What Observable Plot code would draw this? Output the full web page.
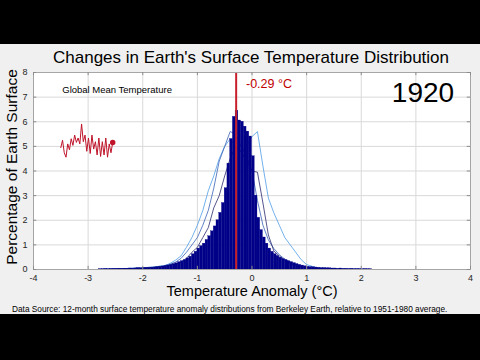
<!DOCTYPE html>
<html>
<head>
<meta charset="utf-8">
<script src="https://cdn.jsdelivr.net/npm/d3@7"></script>
<script src="https://cdn.jsdelivr.net/npm/@observablehq/plot@0.6"></script>
<style>
  html, body { margin: 0; padding: 0; background: #000; width: 480px; height: 360px; overflow: hidden; }
  #panel { position: absolute; left: 0; top: 44px; width: 480px; height: 270px; background: #f0f0f0; }
  #title { position: absolute; left: 22px; width: 458px; top: 48px; text-align: center;
           font: 17px Arial, "Liberation Sans", sans-serif; line-height: 19px; color: #000; }
  #chart { position: absolute; left: 0; top: 60px; }
  #caption { position: absolute; left: 12px; top: 304px; font: 8.3px Arial, "Liberation Sans", sans-serif;
             line-height: 10px; color: #000; white-space: nowrap; }
</style>
</head>
<body>
<div id="panel"></div>
<div id="title">Changes in Earth's Surface Temperature Distribution</div>
<div id="chart"></div>
<div id="caption">Data Source: 12-month surface temperature anomaly distributions from Berkeley Earth, relative to 1951-1980 average.</div>
<script>
// ---- data ----
const year = 1920;
const meanAnomaly = -0.29;
const xTicks = [-4, -3, -2, -1, 0, 1, 2, 3, 4];
const yTicks = [0, 1, 2, 3, 4, 5, 6, 7, 8];

// histogram for the current year: bins of 0.05 °C starting at -2.8 °C
const binStart = -2.8;
const binWidth = 0.05;
const binValues = [
  0.01, 0.01, 0.02, 0.01, 0.02, 0.02,
  0.02, 0.03, 0.02, 0.03, 0.03, 0.04, 0.03, 0.04, 0.05, 0.04,
  0.05, 0.06, 0.06, 0.07, 0.08, 0.09, 0.10, 0.12, 0.14, 0.16,
  0.19, 0.22, 0.25, 0.30, 0.34, 0.38, 0.45, 0.52, 0.62, 0.72,
  0.85, 0.95, 1.05, 1.20, 1.35, 1.55, 1.75, 2.00, 2.30, 2.70,
  3.30, 4.30, 5.30, 6.20, 6.45, 6.05, 6.00, 5.80, 5.60, 5.40,
  4.60, 3.00, 2.10, 1.60, 1.30, 1.05, 0.85, 0.72, 0.62, 0.55,
  0.48, 0.42, 0.38, 0.34, 0.30, 0.26, 0.22, 0.19, 0.16, 0.13,
  0.11, 0.10, 0.09, 0.08, 0.07, 0.06, 0.06, 0.05, 0.05, 0.04,
  0.04, 0.03, 0.04, 0.03, 0.03, 0.02, 0.03, 0.02, 0.02, 0.02, 0.01, 0.02, 0.01, 0.01
];

// outlines of earlier distributions
const lineX = [-2.8, -2.4, -2.0, -1.8, -1.6, -1.5, -1.4, -1.3, -1.2, -1.1, -1.0, -0.9, -0.8, -0.7, -0.6, -0.5,
               -0.4, -0.3, -0.2, -0.1, 0.0, 0.1, 0.2, 0.3, 0.4, 0.5, 0.6, 0.7, 0.8, 0.9, 1.0, 1.2, 1.5];
const lineLight = [0, 0.03, 0.07, 0.10, 0.15, 0.25, 0.38, 0.55, 0.9, 1.3, 1.8, 2.4, 3.2, 3.8, 4.5, 5.0,
                   5.3, 5.0, 4.8, 5.0, 5.4, 5.6, 4.2, 2.9, 2.3, 1.8, 1.3, 1.0, 0.7, 0.4, 0.2, 0.06, 0.02];
const lineMedium = [0, 0.03, 0.07, 0.10, 0.16, 0.22, 0.30, 0.45, 0.7, 1.0, 1.3, 1.8, 2.4, 3.3, 4.4, 5.0,
                    5.6, 5.5, 5.0, 4.6, 4.0, 2.8, 1.8, 1.2, 0.85, 0.6, 0.42, 0.3, 0.2, 0.12, 0.08, 0.03, 0.01];
const lineDark = [0, 0.02, 0.06, 0.08, 0.13, 0.18, 0.23, 0.30, 0.45, 0.7, 0.9, 1.3, 1.7, 2.5, 3.0, 3.8,
                  4.5, 5.0, 4.8, 4.4, 4.0, 3.95, 2.7, 1.4, 0.75, 0.55, 0.37, 0.25, 0.15, 0.1, 0.06, 0.03, 0.01];

// inset: global mean temperature anomaly (°C) up to the current year
const sparkAnoms = [-0.40, -0.30, -0.47, -0.53, -0.35, -0.43, -0.28, -0.37, -0.23, -0.33, -0.27, -0.35, -0.08,
                    -0.32, -0.23, -0.45, -0.27, -0.48, -0.23, -0.42, -0.32, -0.50, -0.27, -0.52, -0.32, -0.50,
                    -0.27, -0.53, -0.35, -0.47, -0.33];

// ---- derived tables ----
const bars = binValues.map((v, i) => ({x1: binStart + i * binWidth, x2: binStart + (i + 1) * binWidth, y: v}));
const mk = (vals) => vals.map((v, i) => ({x: lineX[i], y: v}));
const insetX = d3.scaleLinear([0, sparkAnoms.length - 1], [-3.5, -2.55]);
const insetY = d3.scaleLinear([-0.35, 0.0], [5.1, 6.15]);
const spark = sparkAnoms.map((a, i) => ({x: insetX(i), y: insetY(a)}));

const font = 'Arial, "Liberation Sans", sans-serif';
const fmt = (d) => String(d);

const chart = Plot.plot({
  width: 480,
  height: 243,
  marginLeft: 33,
  marginRight: 10,
  marginTop: 12,
  marginBottom: 34,
  style: {background: "transparent", fontFamily: font, color: "#262626"},
  x: {domain: [-4, 4], axis: null},
  y: {domain: [0, 8], axis: null},
  marks: [
    Plot.frame({fill: "white", stroke: null}),
    Plot.gridX(xTicks, {stroke: "#d9d9d9", strokeOpacity: 1}),
    Plot.gridY(yTicks, {stroke: "#d9d9d9", strokeOpacity: 1}),
    Plot.line(mk(lineLight), {x: "x", y: "y", stroke: "#4f9de6", strokeWidth: 0.8}),
    Plot.line(mk(lineMedium), {x: "x", y: "y", stroke: "#3a62b8", strokeWidth: 0.8}),
    Plot.line(mk(lineDark), {x: "x", y: "y", stroke: "#2a2a70", strokeWidth: 0.8}),
    Plot.rectY(bars, {x1: "x1", x2: "x2", y: "y", fill: "#000088", stroke: "#000088", strokeWidth: 0.3}),
    Plot.ruleX([meanAnomaly], {stroke: "#c8202a", strokeWidth: 2}),
    Plot.line(spark, {x: "x", y: "y", stroke: "#c0142a", strokeWidth: 1}),
    Plot.dot([spark[spark.length - 1]], {x: "x", y: "y", r: 2, fill: "#c0142a", stroke: "#c0142a"}),
    Plot.text(["Global Mean Temperature"], {x: -2.47, y: 7.3, fontSize: 9.5, fill: "#000", fontFamily: font}),
    Plot.text([`${meanAnomaly.toFixed(2)} °C`], {x: -0.11, y: 7.52, textAnchor: "start", fontSize: 12.5, fill: "#c00000", fontFamily: font}),
    Plot.text([String(year)], {x: 3.7, y: 7.15, textAnchor: "end", fontSize: 28, fill: "#000", fontFamily: font}),
    Plot.frame({stroke: "#a6a6a6"}),
    Plot.ruleX(xTicks, {y1: 0, y2: 0.13, stroke: "#8c8c8c"}),
    Plot.ruleX(xTicks, {y1: 7.87, y2: 8, stroke: "#8c8c8c"}),
    Plot.ruleY(yTicks, {x1: -4, x2: -3.94, stroke: "#8c8c8c"}),
    Plot.ruleY(yTicks, {x1: 3.94, x2: 4, stroke: "#8c8c8c"}),
    Plot.axisX(xTicks, {tickSize: 0, tickPadding: 5, fontSize: 9, label: null, fill: "#262626", tickFormat: fmt}),
    Plot.axisY(yTicks, {tickSize: 0, tickPadding: 6, fontSize: 9, label: null, fill: "#262626", tickFormat: fmt}),
    Plot.text(["Temperature Anomaly (°C)"], {frameAnchor: "bottom", dy: 26, fontSize: 14.5, fill: "#000", fontFamily: font}),
    Plot.text(["Percentage of Earth Surface"], {frameAnchor: "left", dx: -21, dy: -4, rotate: -90, textAnchor: "middle", fontSize: 15.5, fill: "#000", fontFamily: font})
  ]
});
document.getElementById("chart").appendChild(chart);
</script>
</body>
</html>
